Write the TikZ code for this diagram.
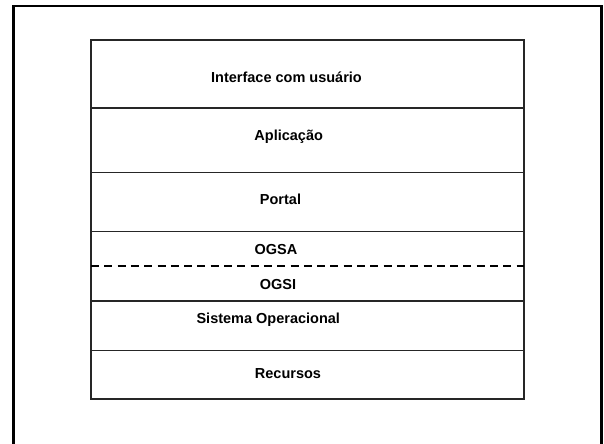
\documentclass[tikz,border=0pt]{standalone}
\usepackage{fontspec}
\setmainfont{Liberation Sans}
\begin{document}
\begin{tikzpicture}[x=1bp,y=-1bp,
  lbl/.style={anchor=base,inner sep=0pt,font=\bfseries\fontsize{14.5bp}{17bp}\selectfont},
  layer/.style={draw=black!85,line width=1.2bp},
  sep/.style={draw=black!85,line width=1.2bp},
  dsep/.style={draw=black,line width=2bp,dash pattern=on 8bp off 5.3bp}]
\useasboundingbox (0,0) rectangle (604,444);
\clip (0,0) rectangle (604,444);
% outer frame
\draw[line width=2.8bp] (13.5,460) -- (13.5,6) -- (601.5,6) -- (601.5,460);
% inner stack
\coordinate (tl) at (91,40);
\coordinate (br) at (524,399);
\draw[layer] (tl) rectangle (br);
\draw[sep] (91,108) -- (524,108);
\draw[sep] (91,172.3) -- (524,172.3);
\draw[sep] (91,231.7) -- (524,231.7);
\draw[dsep] (91,266.5) -- (524,266.5);
\draw[sep] (91,301) -- (524,301);
\draw[sep] (91,350.3) -- (524,350.3);
% labels
\node[lbl] (ui) at (286.5,82.8) {Interface com usuário};
\node[lbl] (app) at (288.7,141) {Aplicação};
\node[lbl] (portal) at (280.5,205) {Portal};
\node[lbl] (ogsa) at (276,254.3) {OGSA};
\node[lbl] (ogsi) at (278,289.3) {OGSI};
\node[lbl] (so) at (268.3,323.3) {Sistema Operacional};
\node[lbl] (rec) at (288,378.3) {Recursos};
\end{tikzpicture}
\end{document}
